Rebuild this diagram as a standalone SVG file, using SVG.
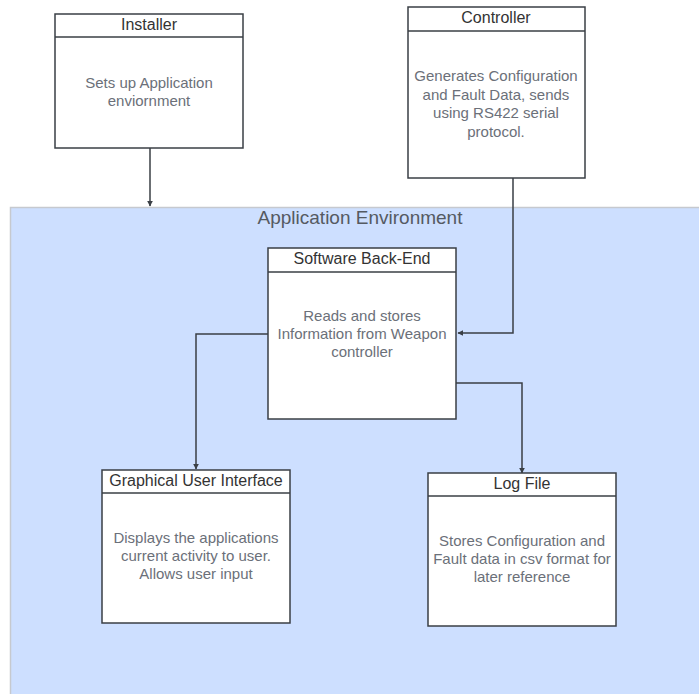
<svg xmlns="http://www.w3.org/2000/svg" width="699" height="694" viewBox="0 0 699 694">
<style>
.box{fill:#ffffff;stroke:#3a3f45;stroke-width:1.5}
.hdr{stroke:#3a3f45;stroke-width:1.5}
.title{font-family:"Liberation Sans",Arial,sans-serif;font-size:16px;fill:#333333;text-anchor:middle}
.body{font-family:"Liberation Sans",Arial,sans-serif;font-size:15px;fill:#6b7079;text-anchor:middle}
.conn{fill:none;stroke:#3a3f45;stroke-width:1.5}
.env{font-family:"Liberation Sans",Arial,sans-serif;font-size:19px;fill:#555a62;text-anchor:middle}
</style>
<defs>
<marker id="arr" viewBox="0 0 10 10" refX="9" refY="5" markerWidth="4" markerHeight="4" orient="auto">
<path d="M0,0 L10,5 L0,10 z" fill="#3a3f45"/>
</marker>
</defs>
<rect width="699" height="694" fill="#ffffff"/>
<g id="env">
<rect x="10.5" y="207.5" width="700" height="500" fill="#cddfff" stroke="#c6c9cf" stroke-width="1.5"/>
<text class="env" x="360" y="224">Application Environment</text>
</g>
<g id="connectors">
<path class="conn" d="M150,148 V206" marker-end="url(#arr)"/>
<path class="conn" d="M513,178 V333 H458" marker-end="url(#arr)"/>
<path class="conn" d="M268,334 H196 V469" marker-end="url(#arr)"/>
<path class="conn" d="M456,383 H522 V473" marker-end="url(#arr)"/>
</g>
<g id="installer">
<rect class="box" x="55" y="14" width="188" height="134"/>
<line class="hdr" x1="55" y1="37" x2="243" y2="37"/>
<text class="title" x="149" y="30">Installer</text>
<text class="body" x="149" y="88">Sets up Application</text>
<text class="body" x="149" y="106">enviornment</text>
</g>
<g id="controller">
<rect class="box" x="408" y="7" width="177" height="171"/>
<line class="hdr" x1="408" y1="31" x2="585" y2="31"/>
<text class="title" x="496" y="23">Controller</text>
<text class="body" x="496" y="81">Generates Configuration</text>
<text class="body" x="496" y="99.5">and Fault Data, sends</text>
<text class="body" x="496" y="118">using RS422 serial</text>
<text class="body" x="496" y="136.5">protocol.</text>
</g>
<g id="backend">
<rect class="box" x="268" y="248" width="188" height="171"/>
<line class="hdr" x1="268" y1="272" x2="456" y2="272"/>
<text class="title" x="362" y="264">Software Back-End</text>
<text class="body" x="362" y="321">Reads and stores</text>
<text class="body" x="362" y="339">Information from Weapon</text>
<text class="body" x="362" y="357">controller</text>
</g>
<g id="gui">
<rect class="box" x="102" y="470" width="188" height="153"/>
<line class="hdr" x1="102" y1="493" x2="290" y2="493"/>
<text class="title" x="196" y="486">Graphical User Interface</text>
<text class="body" x="196" y="543">Displays the applications</text>
<text class="body" x="196" y="561">current activity to user.</text>
<text class="body" x="196" y="579">Allows user input</text>
</g>
<g id="logfile">
<rect class="box" x="428" y="473" width="188" height="153"/>
<line class="hdr" x1="428" y1="496" x2="616" y2="496"/>
<text class="title" x="522" y="489">Log File</text>
<text class="body" x="522" y="546">Stores Configuration and</text>
<text class="body" x="522" y="564">Fault data in csv format for</text>
<text class="body" x="522" y="582">later reference</text>
</g>
</svg>
